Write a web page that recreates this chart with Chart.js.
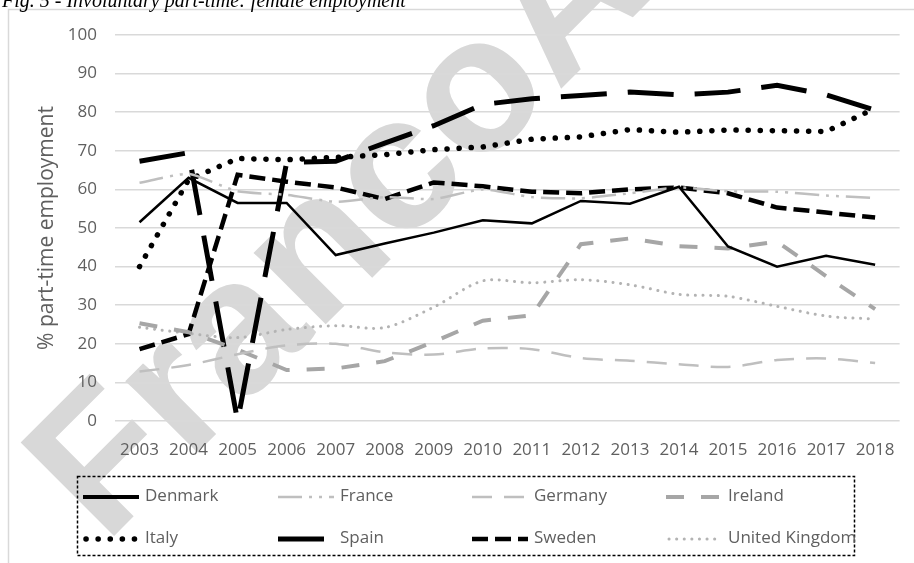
<!DOCTYPE html>
<html>
<head>
<meta charset="utf-8">
<script src="https://cdn.jsdelivr.net/npm/chart.js@4.4.1/dist/chart.umd.min.js"></script>
<style>
  html, body { margin: 0; padding: 0; background: #fff; }
  canvas { display: block; }
</style>
</head>
<body>
<canvas id="grafico_part_time" width="914" height="563"></canvas>
<script>
/* anos e valores (% part-time involontario, donne) */
const anni = ['2003', '2004', '2005', '2006', '2007', '2008', '2009', '2010',
              '2011', '2012', '2013', '2014', '2015', '2016', '2017', '2018'];

const denmark = [51.5, 63, 56.5, 56.5, 43, 46, 48.8, 52, 51.2, 57, 56.3, 60.7, 45.2, 40, 42.8, 40.5];
const france  = [61.7, 64, 59.5, 58.6, 56.8, 58, 57.5, 60, 58, 57.7, 59, 60.5, 59.5, 59.4, 58.4, 57.8];
const germany = [12.8, 14.5, 17.3, 19.6, 20, 17.8, 17.2, 18.8, 18.6, 16.3, 15.6, 14.7, 14, 15.8, 16.2, 15];
const ireland = [25.3, 23, 18.5, 13.2, 13.6, 15.5, 20.5, 26, 27.4, 45.8, 47.3, 45.3, 44.7, 46.5, 37.5, 29];
const italy   = [40, 62.5, 68, 67.7, 68.3, 69, 70.3, 71, 73, 73.6, 75.5, 74.8, 75.4, 75.2, 75, 81];
const spain   = [67.3, 69.5, 0, 67, 67.3, 72, 76.5, 82, 83.5, 84.3, 85.2, 84.5, 85.2, 87, 84.5, 80.5];
const sweden  = [18.6, 22.5, 63.8, 62, 60.5, 57.5, 61.8, 60.8, 59.4, 59, 60, 60.5, 59, 55.3, 54, 52.7];
const uk      = [24.3, 22.7, 21.6, 23.7, 24.7, 24.2, 29.5, 36.3, 35.8, 36.6, 35.3, 32.8, 32.3, 29.7, 27.2, 26.4];

const tick_y = [0, 10, 20, 30, 40, 50, 60, 70, 80, 90, 100];

const font_testo = 'Open Sans';
const grigio_testo = '#5f5f5f';

/* sfondo: cornice, filigrana */
const sfondo = {
  id: 'sfondo',
  beforeDraw(chart) {
    const ctx = chart.ctx;
    ctx.save();
    ctx.fillStyle = '#fff';
    ctx.fillRect(0, 0, chart.width, chart.height);
    ctx.strokeStyle = '#d9d9d9';
    ctx.lineWidth = 1.5;
    ctx.beginPath();
    ctx.moveTo(914, 9.5);
    ctx.lineTo(8.5, 9.5);
    ctx.lineTo(8.5, 563);
    ctx.stroke();
    // filigrana
    ctx.translate(105, 545);
    ctx.rotate(-45 * Math.PI / 180);
    ctx.font = 'bold 192px "Liberation Sans"';
    ctx.fillStyle = '#d8d8d8';
    ctx.textBaseline = 'alphabetic';
    ctx.fillText('FrancoAngeli', 0, 0);
    ctx.restore();
  }
};

/* legenda in riquadro tratteggiato + titolo della figura */
const legenda = {
  id: 'legenda',
  afterDraw(chart) {
    const ctx = chart.ctx;
    ctx.save();
    ctx.font = 'italic 20px "Liberation Serif"';
    ctx.fillStyle = '#000';
    ctx.textBaseline = 'alphabetic';
    ctx.fillText('Fig. 5 - Involuntary part-time: female employment', 2, 7);

    ctx.strokeStyle = '#000';
    ctx.lineWidth = 1.5;
    ctx.setLineDash([3, 2]);
    ctx.strokeRect(77.5, 476.5, 777, 79);

    const colonne = [83, 278, 472, 666];
    const righe = [497, 539];
    ctx.font = '17px "' + font_testo + '"';
    ctx.textBaseline = 'middle';
    chart.data.datasets.forEach((ds, i) => {
      const x = colonne[i % 4];
      const y = righe[Math.floor(i / 4)];
      ctx.strokeStyle = ds.borderColor;
      ctx.lineWidth = ds.label === 'Denmark' ? 4 : ds.borderWidth;
      ctx.lineCap = ds.borderCapStyle || 'butt';
      ctx.setLineDash(ds.borderDash || []);
      ctx.beginPath();
      ctx.moveTo(x + (ds.borderCapStyle === 'round' ? 3 : 0), y);
      ctx.lineTo(x + 56, y);
      ctx.stroke();
      ctx.setLineDash([]);
      ctx.fillStyle = grigio_testo;
      ctx.fillText(ds.label, x + 62, y - 1);
    });
    ctx.restore();
  }
};

const data_part_time = {
  labels: anni,
  datasets: [
    { label: 'Denmark', data: denmark, borderColor: '#000', borderWidth: 2.5, borderDash: [] },
    { label: 'France', data: france, borderColor: '#bfbfbf', borderWidth: 2.5, borderDash: [24, 7, 3, 7, 3, 7], tension: 0.2 },
    { label: 'Germany', data: germany, borderColor: '#bfbfbf', borderWidth: 2.5, borderDash: [20, 12], tension: 0.3 },
    { label: 'Ireland', data: ireland, borderColor: '#a6a6a6', borderWidth: 4, borderDash: [18, 17] },
    { label: 'Italy', data: italy, borderColor: '#000', borderWidth: 5.5, borderDash: [0.1, 12], borderCapStyle: 'round' },
    { label: 'Spain', data: spain, borderColor: '#000', borderWidth: 5, borderDash: [46, 21] },
    { label: 'Sweden', data: sweden, borderColor: '#000', borderWidth: 4.5, borderDash: [16, 7] },
    { label: 'United Kingdom', data: uk, borderColor: '#b3b3b3', borderWidth: 3, borderDash: [0.1, 7.5], borderCapStyle: 'round', tension: 0.3 }
  ]
};

const config_part_time = {
  type: 'line',
  data: data_part_time,
  options: {
    responsive: false,
    animation: false,
    layout: { padding: { left: 0, right: 14, top: 35, bottom: 87 } },
    elements: {
      point: { radius: 0, hoverRadius: 0 },
      line: { fill: false, tension: 0 }
    },
    plugins: {
      legend: { display: false },
      tooltip: { enabled: false }
    },
    scales: {
      x: {
        offset: true,
        grid: { display: false, drawTicks: false },
        border: { display: false },
        ticks: { color: grigio_testo, font: { family: font_testo, size: 17 }, padding: 19, maxRotation: 0, autoSkip: false },
        afterFit(scale) { scale.height = 55; }
      },
      y: {
        min: 0,
        max: 100,
        afterBuildTicks(scale) { scale.ticks = tick_y.map(v => ({ value: v })); },
        grid: { color: '#d9d9d9', lineWidth: 1.5, drawTicks: false },
        border: { display: false },
        ticks: { color: grigio_testo, font: { family: font_testo, size: 17 }, padding: 18 },
        title: {
          display: true,
          text: '% part-time employment',
          color: grigio_testo,
          font: { family: font_testo, size: 21 },
          padding: { top: 34, bottom: 0 }
        },
        afterFit(scale) { scale.width = 115; }
      }
    }
  },
  plugins: [sfondo, legenda]
};

const grafico_part_time = new Chart(
  document.getElementById('grafico_part_time'),
  config_part_time
);
</script>
</body>
</html>
